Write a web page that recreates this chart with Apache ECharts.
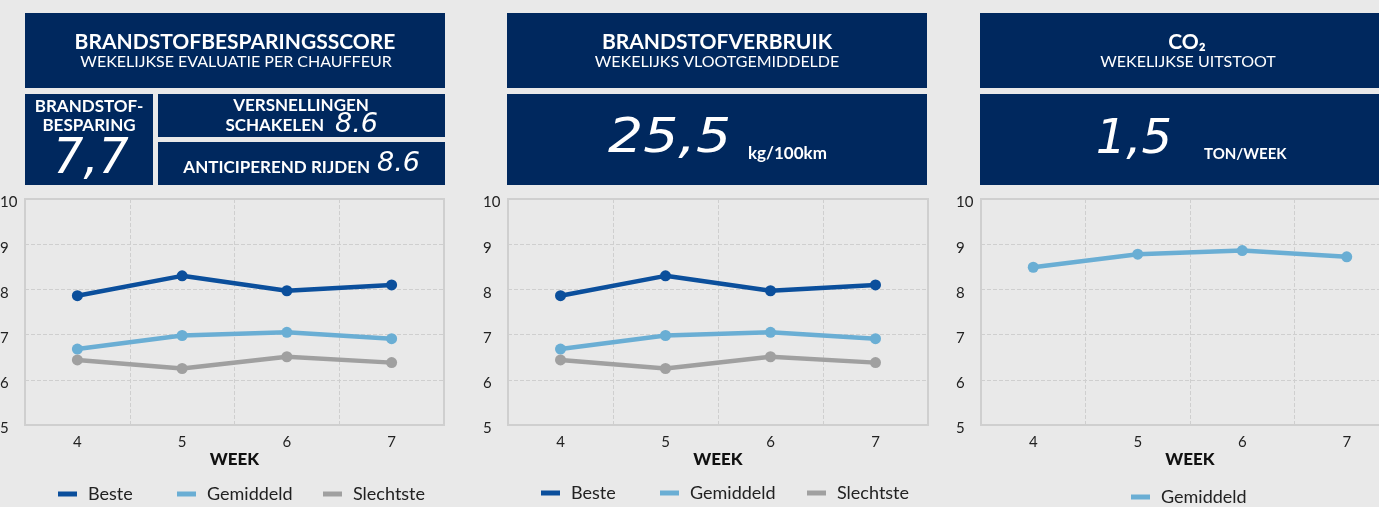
<!doctype html>
<html>
<head>
<meta charset="utf-8">
<title>Brandstof dashboard</title>
<script src="https://cdn.jsdelivr.net/npm/echarts@6/dist/echarts.min.js"></script>
<style>
  html, body { margin: 0; padding: 0; overflow: hidden; background: #e9e9e9; }
  #chart { width: 1420px; height: 507px; }
</style>
</head>
<body>
<div id="chart"></div>
<script type="text/javascript">
// week numbers on the x axis
var weeks = ['4', '5', '6', '7'];
// fuel saving score per week
var beste = [7.86, 8.30, 7.97, 8.10];
var gemiddeld = [6.68, 6.98, 7.05, 6.91];
var slechtste = [6.44, 6.25, 6.51, 6.38];
// CO2 weekly average
var co2Gemiddeld = [8.49, 8.78, 8.86, 8.72];
// kpi figures in the header boxes
var kpiBesparing = '7,7';
var kpiSchakelen = '8.6';
var kpiAnticiperen = '8.6';
var kpiVerbruik = '25,5';
var kpiCo2 = '1,5';

var NAVY = '#00285e';
var COLORS = { Beste: '#0b4f9c', Gemiddeld: '#6aaed4', Slechtste: '#a0a0a0' };
var FONT = 'Lato, "Open Sans", sans-serif';

function box(x, y, w, h) {
  return { type: 'rect', shape: { x: x, y: y, width: w, height: h }, style: { fill: NAVY }, silent: true };
}
function txt(str, x, y, font, align) {
  return {
    type: 'text', x: x, y: y, silent: true,
    style: { text: str, fill: '#fff', font: font, align: align || 'center', verticalAlign: 'middle' }
  };
}
// big italic figures, stretched a bit to look like the wide display font
function big(str, x, y, size, align, sx) {
  var t = txt(str, x, y, 'italic ' + size + 'px "DejaVu Sans", sans-serif', align);
  t.scaleX = sx || 1;
  return t;
}

var graphics = [
  // panel 1
  box(25, 13, 420, 75),
  txt('BRANDSTOFBESPARINGSSCORE', 235, 42, 'bold 21px ' + FONT),
  txt('WEKELIJKSE EVALUATIE PER CHAUFFEUR', 236, 62, '16px ' + FONT),
  box(25, 94, 128, 91),
  txt('BRANDSTOF-', 89, 107, 'bold 17px ' + FONT),
  txt('BESPARING', 89, 126, 'bold 17px ' + FONT),
  big(kpiBesparing, 91, 160, 50, 'center', 0.95),
  box(158, 94, 287, 43),
  txt('VERSNELLINGEN', 301, 106, 'bold 17px ' + FONT),
  txt('SCHAKELEN', 324, 126, 'bold 17px ' + FONT, 'right'),
  txt(kpiSchakelen, 335, 125, 'italic 27px "DejaVu Sans", sans-serif', 'left'),
  box(158, 142, 287, 43),
  txt('ANTICIPEREND RIJDEN', 370, 168, 'bold 17px ' + FONT, 'right'),
  txt(kpiAnticiperen, 377, 164, 'italic 27px "DejaVu Sans", sans-serif', 'left'),
  // panel 2
  box(507, 13, 420, 75),
  txt('BRANDSTOFVERBRUIK', 717, 42, 'bold 21px ' + FONT),
  txt('WEKELIJKS VLOOTGEMIDDELDE', 717, 62, '16px ' + FONT),
  box(507, 94, 420, 91),
  big(kpiVerbruik, 731, 140, 48, 'right', 1.15),
  txt('kg/100km', 748, 154, 'bold 17px ' + FONT, 'left'),
  // panel 3
  box(980, 13, 420, 75),
  txt('CO₂', 1187, 42, 'bold 21px ' + FONT),
  txt('WEKELIJKSE UITSTOOT', 1188, 62, '16px ' + FONT),
  box(980, 94, 420, 91),
  big(kpiCo2, 1172, 141, 48, 'right', 1.0),
  txt('TON/WEEK', 1204, 154, 'bold 15px ' + FONT, 'left')
];

var grids = [
  { left: 25, top: 199, width: 419, height: 226 },
  { left: 508, top: 199, width: 420, height: 226 },
  { left: 981, top: 199, width: 418, height: 226 }
];

function makeX(i) {
  return {
    type: 'category', gridIndex: i, data: weeks, boundaryGap: true,
    axisLine: { show: false }, axisTick: { show: false },
    axisLabel: { color: '#222', fontSize: 15, fontFamily: FONT, margin: 10 },
    splitLine: { show: true, lineStyle: { color: '#cfcfcf', type: 'dashed', width: 1 } },
    name: 'WEEK', nameLocation: 'middle', nameGap: 26,
    nameTextStyle: { color: '#111', fontSize: 17, fontWeight: 900, fontFamily: FONT }
  };
}
function makeY(i) {
  return {
    type: 'value', gridIndex: i, min: 5, max: 10, interval: 1,
    axisLine: { show: false }, axisTick: { show: false },
    axisLabel: {
      align: 'left', margin: 25, formatter: '{v|{value}}',
      rich: { v: { color: '#222', fontSize: 15, fontFamily: FONT, padding: [7, 0, 0, 0] } }
    },
    splitLine: { show: true, lineStyle: { color: '#cfcfcf', type: 'dashed', width: 1 } }
  };
}
function line(name, data, i) {
  return {
    name: name, type: 'line', xAxisIndex: i, yAxisIndex: i, data: data,
    symbol: 'circle', symbolSize: 11, silent: true,
    lineStyle: { width: 4.5, color: COLORS[name] },
    itemStyle: { color: COLORS[name] }
  };
}
// one legend per item so each can sit where it sits in the picture
function legendItem(name, left, centerY) {
  return {
    data: [name], left: left, top: centerY - 10, padding: 0, icon: 'rect',
    itemWidth: 19, itemHeight: 5, selectedMode: false,
    textStyle: { color: '#222', fontSize: 18, fontFamily: FONT, padding: [0, 0, 0, 6] }
  };
}

var chart = echarts.init(document.getElementById('chart'));
chart.setOption({
  animation: false,
  backgroundColor: '#e9e9e9',
  graphic: graphics,
  grid: grids.map(function (g) {
    return Object.assign({
      show: true, borderColor: '#cfcfcf', borderWidth: 2, backgroundColor: 'transparent',
      containLabel: false, outerBoundsMode: 'none'
    }, g);
  }),
  xAxis: [makeX(0), makeX(1), makeX(2)],
  yAxis: [makeY(0), makeY(1), makeY(2)],
  legend: [
    legendItem('Beste', 58, 495),
    legendItem('Gemiddeld', 177, 495),
    legendItem('Slechtste', 323, 495),
    legendItem('Beste', 541, 494),
    legendItem('Gemiddeld', 660, 494),
    legendItem('Slechtste', 807, 494),
    legendItem('Gemiddeld', 1131, 498)
  ],
  series: [
    line('Beste', beste, 0),
    line('Gemiddeld', gemiddeld, 0),
    line('Slechtste', slechtste, 0),
    line('Beste', beste, 1),
    line('Gemiddeld', gemiddeld, 1),
    line('Slechtste', slechtste, 1),
    line('Gemiddeld', co2Gemiddeld, 2)
  ]
});
</script>
</body>
</html>
